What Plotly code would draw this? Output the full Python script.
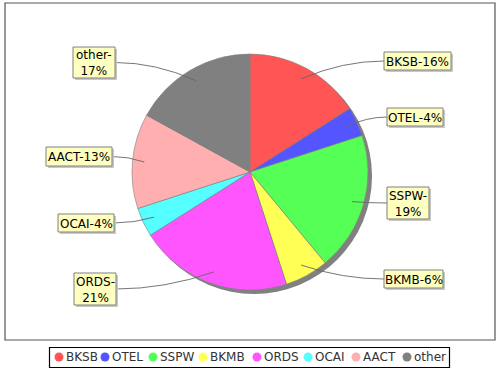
import math
import plotly.graph_objects as go

# ---- data ----
categories = ["BKSB", "OTEL", "SSPW", "BKMB", "ORDS", "OCAI", "AACT", "other"]
values = [16, 4, 19, 6, 21, 4, 13, 17]
label_texts = ["BKSB-16%", "OTEL-4%", "SSPW-<br>19%", "BKMB-6%",
               "ORDS-<br>21%", "OCAI-4%", "AACT-13%", "other-<br>17%"]

# ---- styles / layout ----
colors = ["#FF5555", "#5555FF", "#55FF55", "#FFFF55", "#FF55FF", "#55FFFF", "#FFAFAF", "#808080"]
W, H = 500, 370
CX, CY, R = 250, 172, 118
SH = 4  # pie shadow offset
# label boxes: left, top, width, height (pixels)
box_x = [384, 387, 387, 384, 74, 58, 46, 73]
box_y = [52, 108, 187, 270, 273, 214, 147, 47]
box_w = [67, 56, 42, 59, 42, 56, 66, 42]
box_h = [18, 18, 32, 18, 32, 18, 19, 31]
# legend symbol x positions
leg_x = [59, 105, 153, 203, 257, 308, 356, 407]
LEG_Y = 357
FONT = "DejaVu Sans"

fig = go.Figure()

def dom(cx, cy):
    return dict(x=[(cx - R) / W, (cx + R) / W], y=[(H - cy - R) / H, (H - cy + R) / H])

# pie shadow
fig.add_trace(go.Pie(values=[1], labels=["shadow"], marker=dict(colors=["#808080"], line=dict(width=0)),
                     domain=dom(CX + SH, CY + SH), textinfo="none", hoverinfo="skip",
                     showlegend=False, sort=False))
# pie
fig.add_trace(go.Pie(values=values, labels=categories, sort=False, direction="clockwise", rotation=0,
                     marker=dict(colors=colors, line=dict(color="#808080", width=0.6)),
                     domain=dom(CX, CY), textinfo="none", hoverinfo="label+percent",
                     showlegend=False))

# manual legend symbols
fig.add_trace(go.Scatter(x=leg_x, y=[LEG_Y] * len(leg_x), mode="markers", hoverinfo="skip",
                         showlegend=False,
                         marker=dict(symbol="circle", size=9, color=colors, line=dict(width=0))))

shapes = [
    # outer plot border
    dict(type="rect", xref="x", yref="y", x0=5, y0=3, x1=495, y1=340,
         line=dict(color="#555555", width=1.2), layer="below"),
    # legend border
    dict(type="rect", xref="x", yref="y", x0=49.5, y0=347.5, x1=449.5, y1=367.5,
         line=dict(color="black", width=1.2), layer="below"),
]
anns = []

total = sum(values)
cum = 0
for i, v in enumerate(values):
    th = 2 * math.pi * (cum + v / 2) / total
    cum += v
    px = CX + 0.9 * R * math.sin(th)
    py = CY - 0.9 * R * math.cos(th)
    bx0, by0 = box_x[i], box_y[i]
    bx1, by1 = bx0 + box_w[i], by0 + box_h[i]
    bcy = (by0 + by1) / 2
    ex = bx0 if px < bx0 else bx1  # box edge the leader attaches to
    cxp = px + (ex - px) * 0.5
    shapes.append(dict(type="path", xref="x", yref="y",
                       path=f"M {px:.1f},{py:.1f} Q {cxp:.1f},{bcy:.1f} {ex:.1f},{bcy:.1f}",
                       line=dict(color="#666666", width=0.9)))
    # box shadow
    shapes.append(dict(type="rect", xref="x", yref="y", x0=bx0 + 2, y0=by0 + 2, x1=bx1 + 2, y1=by1 + 2,
                       fillcolor="#C8C8C8", line=dict(width=0)))
    # box
    shapes.append(dict(type="rect", xref="x", yref="y", x0=bx0, y0=by0, x1=bx1, y1=by1,
                       fillcolor="#FFFFC0", line=dict(color="#808080", width=1)))
    anns.append(dict(x=(bx0 + bx1) / 2, y=bcy + 0.5, xref="x", yref="y", text=label_texts[i],
                     showarrow=False, align="center", xanchor="center", yanchor="middle",
                     font=dict(family=FONT, size=12, color="black")))

for i, c in enumerate(categories):
    anns.append(dict(x=leg_x[i] + 5, y=LEG_Y, xref="x", yref="y", text=c, showarrow=False,
                     xanchor="left", yanchor="middle",
                     font=dict(family=FONT, size=12, color="#333333")))

fig.update_layout(
    width=W, height=H, margin=dict(l=0, r=0, t=0, b=0),
    paper_bgcolor="white", plot_bgcolor="rgba(0,0,0,0)",
    xaxis=dict(range=[0, W], visible=False, fixedrange=True),
    yaxis=dict(range=[H, 0], visible=False, fixedrange=True),
    showlegend=False,
    annotations=anns,
    shapes=shapes,
)

fig.write_html("out.html", config={"displayModeBar": False},
               post_script="document.body.style.margin='0px';")
